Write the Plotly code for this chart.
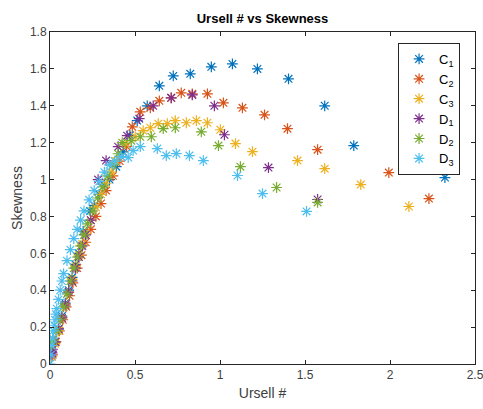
import plotly.graph_objects as go

# ---- data ----
c1_x = [0.01, 0.03, 0.05, 0.07, 0.09, 0.11, 0.13, 0.15, 0.17, 0.195, 0.236, 0.26, 0.29, 0.32, 0.35, 0.39, 0.43, 0.47,
        0.513, 0.572, 0.643, 0.725, 0.825, 0.949, 1.073, 1.22, 1.403, 1.616, 1.787, 2.323]
c1_y = [0.04, 0.12, 0.19, 0.26, 0.33, 0.40, 0.47, 0.54, 0.60, 0.72, 0.83, 0.86, 0.92, 0.97, 1.00, 1.07, 1.15, 1.24,
        1.32, 1.40, 1.508, 1.562, 1.573, 1.611, 1.627, 1.60, 1.546, 1.40, 1.184, 1.011]

c2_x = [0.015, 0.035, 0.055, 0.075, 0.095, 0.115, 0.135, 0.16, 0.185, 0.21, 0.24, 0.27, 0.30, 0.33, 0.37, 0.41, 0.45,
        0.484, 0.531, 0.59, 0.643, 0.713, 0.772, 0.837, 0.926, 1.02, 1.132, 1.262, 1.397, 1.574, 1.993, 2.229]
c2_y = [0.05, 0.12, 0.18, 0.24, 0.31, 0.37, 0.44, 0.52, 0.59, 0.66, 0.73, 0.80, 0.87, 0.94, 1.02, 1.10, 1.18,
        1.286, 1.367, 1.389, 1.427, 1.443, 1.47, 1.465, 1.465, 1.416, 1.389, 1.351, 1.276, 1.162, 1.038, 0.897]

c3_x = [0.01, 0.03, 0.05, 0.07, 0.09, 0.11, 0.13, 0.15, 0.17, 0.19, 0.21, 0.24, 0.27, 0.30, 0.33, 0.36, 0.39,
        0.442, 0.501, 0.548, 0.59, 0.637, 0.69, 0.737, 0.802, 0.861, 0.926, 1.002, 1.091, 1.191, 1.456, 1.616, 1.828, 2.111]
c3_y = [0.04, 0.11, 0.18, 0.25, 0.32, 0.39, 0.46, 0.53, 0.59, 0.65, 0.71, 0.78, 0.85, 0.92, 0.98, 1.04, 1.10,
        1.195, 1.232, 1.265, 1.281, 1.303, 1.303, 1.319, 1.308, 1.319, 1.308, 1.27, 1.195, 1.151, 1.103, 1.059, 0.973, 0.854]

d1_x = [0.005, 0.01, 0.012, 0.015, 0.03, 0.05, 0.07, 0.09, 0.11, 0.13, 0.15, 0.17, 0.19, 0.21, 0.24, 0.283,
        0.33, 0.401, 0.454, 0.525, 0.607, 0.713, 0.837, 0.967, 1.026, 1.285, 1.574]
d1_y = [0.05, 0.07, 0.06, 0.08, 0.12, 0.19, 0.25, 0.32, 0.39, 0.45, 0.52, 0.58, 0.64, 0.70, 0.78, 1.00,
        1.103, 1.178, 1.238, 1.33, 1.40, 1.443, 1.459, 1.40, 1.243, 1.065, 0.892]

d2_x = [0.005, 0.01, 0.02, 0.04, 0.06, 0.08, 0.10, 0.12, 0.14, 0.16, 0.18, 0.20, 0.22, 0.25, 0.28, 0.31, 0.34, 0.37,
        0.40, 0.425, 0.478, 0.531, 0.596, 0.666, 0.737, 0.89, 0.991, 1.12, 1.333, 1.574]
d2_y = [0.10, 0.12, 0.13, 0.18, 0.24, 0.31, 0.38, 0.45, 0.52, 0.58, 0.64, 0.70, 0.76, 0.83, 0.90, 0.96, 1.02, 1.08,
        1.14, 1.20, 1.211, 1.232, 1.232, 1.276, 1.281, 1.259, 1.184, 1.07, 0.957, 0.876]

d3_x = [0.0, 0.005, 0.01, 0.015, 0.02, 0.025, 0.03, 0.035, 0.04, 0.05, 0.06, 0.07, 0.08, 0.10, 0.12, 0.14, 0.16, 0.18,
        0.20, 0.23, 0.26, 0.29, 0.32, 0.35, 0.38, 0.419, 0.46, 0.489, 0.531, 0.631, 0.684, 0.743, 0.82, 0.902, 1.103,
        1.25, 1.509]
d3_y = [0.0, 0.05, 0.10, 0.14, 0.18, 0.21, 0.24, 0.27, 0.30, 0.35, 0.40, 0.45, 0.49, 0.56, 0.62, 0.68, 0.73, 0.78,
        0.83, 0.89, 0.94, 0.99, 1.04, 1.08, 1.10, 1.124, 1.119, 1.157, 1.178, 1.168, 1.13, 1.141, 1.13, 1.103, 1.022,
        0.924, 0.827]

series = [
    ("C<sub>1</sub>", c1_x, c1_y, "#0072BD"),
    ("C<sub>2</sub>", c2_x, c2_y, "#D95319"),
    ("C<sub>3</sub>", c3_x, c3_y, "#EDB120"),
    ("D<sub>1</sub>", d1_x, d1_y, "#7E2F8E"),
    ("D<sub>2</sub>", d2_x, d2_y, "#77AC30"),
    ("D<sub>3</sub>", d3_x, d3_y, "#4DBEEE"),
]

fig = go.Figure()
for name, xs, ys, col in series:
    fig.add_trace(go.Scatter(
        x=xs, y=ys, mode="markers", name=name,
        marker=dict(symbol="asterisk-open", size=9, color=col, line=dict(color=col, width=1.2)),
    ))

axis_common = dict(
    showgrid=False, zeroline=False, showline=True, linecolor="#262626", linewidth=1,
    mirror="ticks", ticks="inside", ticklen=4, tickcolor="#262626", ticklabeloverflow="allow",
    automargin=False,
    tickfont=dict(family="Liberation Sans, Arial, sans-serif", size=12, color="#404040"),
)

fig.update_layout(
    width=483, height=409,
    margin=dict(l=50, r=8, t=32, b=45, autoexpand=False),
    paper_bgcolor="white", plot_bgcolor="white",
    title=dict(text="<b>Ursell # vs Skewness</b>", x=0.5, xref="paper", y=0.955, yref="container",
               xanchor="center", yanchor="middle",
               font=dict(family="Liberation Sans, Arial, sans-serif", size=13, color="#000000")),
    xaxis=dict(range=[0, 2.5], tickvals=[0, 0.5, 1, 1.5, 2, 2.5], ticktext=["0", "0.5", "1", "1.5", "2", "2.5"],
               title=dict(text="Ursell #", standoff=6,
                          font=dict(family="Liberation Sans, Arial, sans-serif", size=14, color="#404040")),
               **axis_common),
    yaxis=dict(range=[0, 1.8], tickvals=[0, 0.2, 0.4, 0.6, 0.8, 1, 1.2, 1.4, 1.6, 1.8],
               ticktext=["0", "0.2", "0.4", "0.6", "0.8", "1", "1.2", "1.4", "1.6", "1.8"],
               title=dict(text="Skewness", standoff=4,
                          font=dict(family="Liberation Sans, Arial, sans-serif", size=14, color="#404040")),
               **axis_common),
    legend=dict(x=0.819, y=0.967, xanchor="left", yanchor="top", bgcolor="white",
                bordercolor="#262626", borderwidth=1,
                font=dict(family="Liberation Sans, Arial, sans-serif", size=13, color="#000000"),
                itemwidth=30, tracegroupgap=0),
    showlegend=True,
)

fig.write_html("out.html")
